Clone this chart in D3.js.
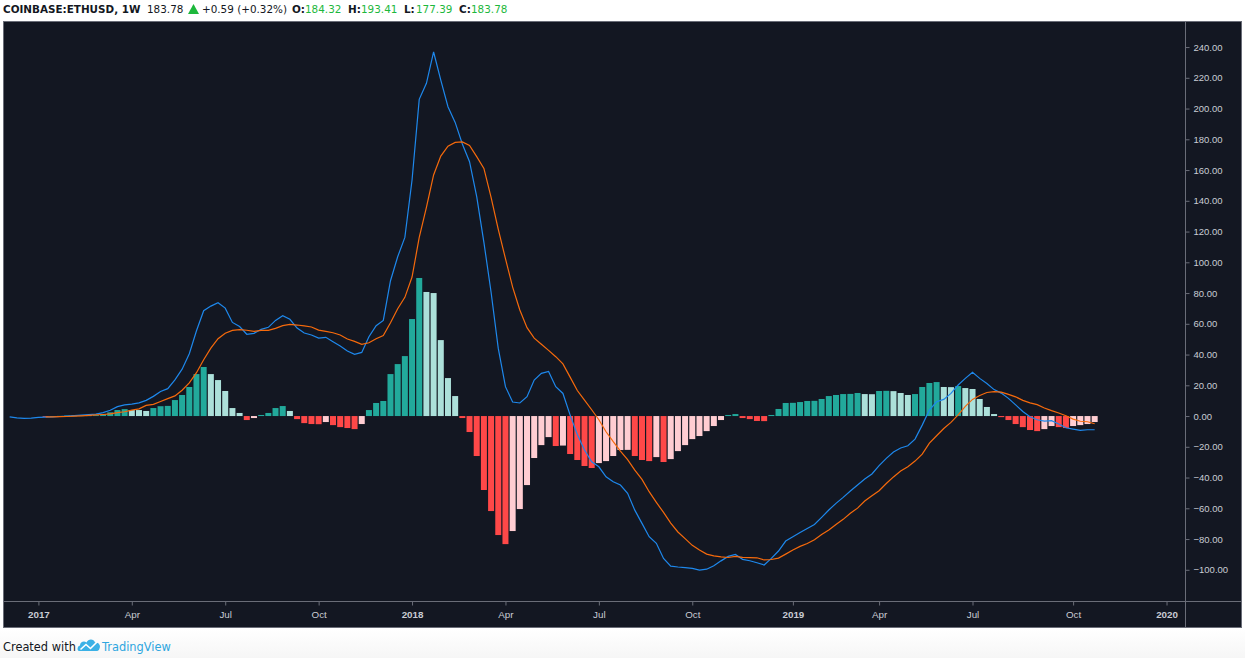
<!DOCTYPE html>
<html>
<head>
<meta charset="utf-8">
<script src="https://cdn.jsdelivr.net/npm/d3@7"></script>
<style>
    body { margin: 0; background: #ffffff; }
    svg { display: block; font-family: "DejaVu Sans", sans-serif; }
</style>
</head>
<body>
<svg id="chart" width="1245" height="658"></svg>
<script>

// weekly bars, first one is the week of 2016-12-05
const firstWeek = '2016-12-05';

// MACD line (blue)
const macd = [
    -0.6, -1.2, -1.5, -1.3,
    -0.9, -0.7, -0.5, -0.3, 0.0, 0.3, 0.6, 0.9, 1.3, 2.2,
    3.8, 6.1, 7.3, 7.8, 8.6, 10.2, 12.8, 16.0, 17.8, 23.5,
    30.5, 40.5, 55.5, 68.5, 71.5, 73.7, 70.2, 60.9, 58.2, 53.2,
    53.8, 56.4, 57.7, 62.2, 65.3, 62.9, 57.2, 54.0, 52.7, 50.7,
    51.2, 48.3, 45.5, 42.3, 40.1, 41.4, 51.6, 58.8, 62.2, 88.0,
    103.6, 116.2, 153.5, 206.0, 216.4, 236.8, 218.5, 201.2, 191.0, 177.0,
    165.4, 142.7, 113.0, 80.5, 44.0, 19.1, 9.1, 8.5, 12.6, 23.4,
    27.8, 29.0, 19.1, 14.7, 0.6, -12.0, -22.1, -29.7, -33.0, -39.5,
    -42.7, -44.9, -50.3, -61.2, -69.8, -78.5, -82.8, -92.6, -97.6, -98.2,
    -98.6, -99.1, -100.2, -99.6, -97.4, -94.2, -91.3, -90.0, -93.2, -94.1,
    -95.4, -96.9, -92.6, -87.8, -81.3, -78.5, -75.7, -73.1, -70.5, -65.9,
    -61.1, -56.8, -52.9, -48.8, -44.9, -41.0, -37.7, -32.3, -27.5, -23.4,
    -20.8, -19.3, -15.0, -5.9, 3.9, 9.3, 10.8, 14.7, 20.2, 24.5,
    28.4, 24.5, 21.2, 17.2, 14.9, 11.5, 7.3, 3.0, -0.5, -2.4,
    -3.3, -3.0, -5.2, -7.6, -8.5, -9.3, -8.9, -8.9
];

// signal line (orange)
const signal = [
    null, null, null, null,
    null, -0.5, -0.5, -0.4, -0.3, -0.1, 0.1, 0.4, 0.7, 1.0,
    1.4, 2.2, 2.8, 3.9, 4.7, 6.9, 7.6, 9.5, 11.3, 13.1,
    16.8, 21.6, 28.2, 36.6, 44.2, 50.3, 53.9, 55.7, 56.2, 55.8,
    55.1, 55.7, 55.7, 57.0, 58.8, 59.6, 59.2, 58.6, 57.9, 55.9,
    55.1, 54.2, 52.7, 50.1, 48.6, 46.6, 47.7, 50.3, 52.4, 60.7,
    69.8, 77.2, 90.4, 116.2, 135.7, 156.8, 169.1, 175.5, 178.0, 178.3,
    176.0, 168.7, 161.1, 142.3, 121.4, 102.4, 83.9, 69.0, 57.5, 50.7,
    46.7, 42.7, 38.6, 33.9, 25.3, 16.6, 10.4, 4.1, -2.4, -10.2,
    -16.7, -22.8, -28.3, -35.2, -41.2, -49.2, -56.1, -62.7, -69.6, -75.4,
    -79.7, -84.1, -87.2, -89.8, -90.9, -91.6, -92.0, -91.3, -91.9, -92.1,
    -92.2, -93.6, -93.3, -92.4, -89.8, -87.1, -84.8, -82.9, -80.4, -77.0,
    -74.1, -70.5, -67.2, -63.2, -59.9, -55.3, -51.9, -48.6, -43.9, -39.6,
    -35.8, -33.0, -29.3, -24.8, -17.6, -12.8, -8.1, -4.1, 0.7, 6.3,
    10.8, 13.4, 15.3, 15.9, 15.6, 14.1, 12.5, 10.2, 8.6, 7.4,
    5.2, 3.5, 2.0, 0.2, -2.0, -3.4, -3.7, -5.0
];

// histogram
const hist = [
    null, null, null, null,
    null, -0.2, 0.0, 0.1, 0.3, 0.4, 0.5, 0.5, 0.6, 1.2,
    2.4, 3.9, 4.5, 3.9, 3.9, 3.3, 5.2, 6.4, 6.6, 10.4,
    13.7, 18.9, 27.3, 31.9, 27.3, 23.4, 16.3, 5.2, 2.0, -2.6,
    -1.3, 0.7, 2.0, 5.2, 6.5, 3.3, -2.0, -4.6, -5.2, -5.3,
    -3.9, -5.9, -7.2, -7.8, -8.5, -5.2, 3.9, 8.5, 9.8, 27.3,
    33.8, 39.0, 63.1, 89.8, 80.7, 80.0, 49.4, 24.7, 13.0, -1.3,
    -10.4, -26.0, -48.1, -61.8, -77.4, -83.3, -74.8, -60.5, -44.9, -27.3,
    -18.9, -13.7, -19.5, -19.2, -24.7, -28.6, -32.5, -33.8, -30.6, -29.3,
    -26.0, -22.1, -22.0, -26.0, -28.6, -29.3, -26.7, -29.9, -28.0, -22.8,
    -18.9, -15.0, -13.0, -9.8, -6.5, -2.6, 0.7, 1.3, -1.3, -2.0,
    -3.2, -3.3, 0.7, 4.6, 8.5, 8.6, 9.1, 9.8, 9.9, 11.1,
    13.0, 13.7, 14.3, 14.4, 15.0, 14.3, 14.2, 16.3, 16.4, 16.2,
    15.0, 13.7, 14.3, 18.9, 21.5, 22.1, 18.9, 18.8, 19.5, 18.2,
    17.6, 11.1, 5.9, 1.3, -0.7, -2.6, -5.2, -7.2, -9.1, -9.8,
    -8.5, -6.5, -7.2, -7.8, -6.5, -5.9, -5.2, -3.9
];

// price scale ticks
const yTicks = [-100, -80, -60, -40, -20, 0, 20, 40, 60, 80, 100, 120, 140, 160, 180, 200, 220, 240];

// time scale ticks (first weekly bar of each quarter)
const xTickDates = ['2017-01-02', '2017-04-03', '2017-07-03', '2017-10-02', '2018-01-01', '2018-04-02',
    '2018-07-02', '2018-10-01', '2019-01-07', '2019-04-01', '2019-07-01', '2019-10-07', '2020-01-06'];
const xTickLabels = ['2017', 'Apr', 'Jul', 'Oct', '2018', 'Apr', 'Jul', 'Oct', '2019', 'Apr', 'Jul', 'Oct', '2020'];

// header legend
const symbol = 'COINBASE:ETHUSD, 1W';
const lastPrice = '183.78';
const change = '+0.59 (+0.32%)';
const ohlcKeys = ['O:', 'H:', 'L:', 'C:'];
const ohlcValues = ['184.32', '193.41', '177.39', '183.78'];


const W = 1245, H = 658;
const frame = {left: 3.5, top: 21.5, right: 1241.5, bottom: 627.5};
const plot = {left: 4, top: 22, right: 1185, bottom: 601};

const bg = '#131722';
const borderCol = '#6a6d78';
const axisText = '#c9ccd4';
const green = '#1db83c';

const svg = d3.select('#chart');
const parse = d3.utcParse('%Y-%m-%d');
const start = parse(firstWeek);
const weeks = macd.map((d, i) => d3.utcDay.offset(start, 7 * i));

const x = d3.scaleUtc()
    .domain([parse('2016-11-29'), parse('2020-01-24')])
    .range([3.5, plot.right]);

const y = d3.scaleLinear()
    .domain([-120.3, 256.3])
    .range([plot.bottom, plot.top]);

// page footer band
const grad = svg.append('defs').append('linearGradient')
    .attr('id', 'foot').attr('x1', 0).attr('y1', 0).attr('x2', 0).attr('y2', 1);
grad.append('stop').attr('offset', 0).attr('stop-color', '#ffffff');
grad.append('stop').attr('offset', 1).attr('stop-color', '#f6f6f6');
svg.append('rect').attr('x', 0).attr('y', 628).attr('width', W).attr('height', H - 628)
    .attr('fill', 'url(#foot)');

svg.select('defs').append('clipPath').attr('id', 'clip')
    .append('rect')
    .attr('x', plot.left).attr('y', plot.top)
    .attr('width', plot.right - plot.left).attr('height', plot.bottom - plot.top);

// chart frame
svg.append('rect')
    .attr('x', frame.left).attr('y', frame.top)
    .attr('width', frame.right - frame.left).attr('height', frame.bottom - frame.top)
    .attr('fill', bg)
    .attr('stroke', borderCol);

const g = svg.append('g').attr('clip-path', 'url(#clip)');

// histogram
const barColor = (d, i) => {
    const prev = i > 0 ? hist[i - 1] : null;
    const up = prev !== null && prev < d;
    if (d >= 0) return up ? '#22a99b' : '#ace0da';
    return up ? '#ffcdd2' : '#ff4848';
};

g.append('g')
    .selectAll('rect')
    .data(hist.map((d, i) => ({v: d, i: i})).filter(d => d.v !== null))
    .enter()
    .append('rect')
    .attr('x', d => x(weeks[d.i]) - 3)
    .attr('width', 6)
    .attr('y', d => Math.min(y(d.v), y(0)))
    .attr('height', d => Math.max(Math.abs(y(d.v) - y(0)), 0.8))
    .attr('fill', d => barColor(d.v, d.i));

const line = d3.line()
    .defined(d => d !== null)
    .x((d, i) => x(weeks[i]))
    .y(d => y(d));

g.append('path')
    .datum(macd)
    .attr('d', line)
    .attr('fill', 'none')
    .attr('stroke', '#1e88ec')
    .attr('stroke-width', 1.2);

g.append('path')
    .datum(signal)
    .attr('d', line)
    .attr('fill', 'none')
    .attr('stroke', '#f66a0c')
    .attr('stroke-width', 1.2);

// price axis
svg.append('line')
    .attr('x1', plot.right + 0.5).attr('x2', plot.right + 0.5)
    .attr('y1', frame.top).attr('y2', frame.bottom)
    .attr('stroke', borderCol);

const yAxis = svg.append('g')
    .attr('transform', `translate(${plot.right + 0.5},0)`)
    .call(d3.axisRight(y).tickValues(yTicks).tickSize(4).tickPadding(4).tickFormat(d3.format('.2f')));
yAxis.select('.domain').remove();
yAxis.selectAll('line').attr('stroke', borderCol);
yAxis.selectAll('text').attr('fill', axisText).style('font-size', '9.5px');

// time axis
svg.append('line')
    .attr('x1', frame.left).attr('x2', frame.right)
    .attr('y1', plot.bottom + 0.5).attr('y2', plot.bottom + 0.5)
    .attr('stroke', borderCol);

const xAxis = svg.append('g')
    .attr('transform', `translate(0,${plot.bottom + 0.5})`)
    .call(d3.axisBottom(x)
        .tickValues(xTickDates.map(parse))
        .tickSize(4).tickPadding(6)
        .tickFormat((d, i) => xTickLabels[i]));
xAxis.select('.domain').remove();
xAxis.selectAll('line').attr('stroke', borderCol);
xAxis.selectAll('text')
    .attr('fill', axisText)
    .style('font-size', '9.8px')
    .style('font-weight', (d, i) => /^\d{4}$/.test(xTickLabels[i]) ? 'bold' : 'normal');

// header legend
const head = svg.append('g').style('font-size', '10.4px');
head.append('text').attr('x', 3).attr('y', 13).attr('fill', '#131722')
    .style('font-weight', 'bold').text(symbol);
head.append('text').attr('x', 147).attr('y', 13).attr('fill', '#131722').text(lastPrice);
head.append('path').attr('d', 'M188,14L199,14L193.5,4Z').attr('fill', green);
head.append('text').attr('x', 202).attr('y', 13).attr('fill', '#131722').text(change);

const keyX = [292, 348, 404, 459];
const valX = [305, 361, 416, 471];
ohlcKeys.forEach((k, i) => {
    head.append('text').attr('x', keyX[i]).attr('y', 13).attr('fill', '#131722')
        .style('font-weight', 'bold').text(k);
    head.append('text').attr('x', valX[i]).attr('y', 13).attr('fill', green).text(ohlcValues[i]);
});

// footer
const foot = svg.append('g').style('font-size', '11.4px');
foot.append('text').attr('x', 3).attr('y', 651).attr('fill', '#131722').text('Created with');
foot.append('path')
    .attr('d', 'M79,651 C77,651 77,646 80,645.5 C80,642 84,640.5 86.5,642.5 C88,638.5 94,638.5 95,642.5 C99,642 101,646 99.5,648.5 C99,650.5 98,651 96,651 Z')
    .attr('fill', '#3ab1e6');
foot.append('path')
    .attr('d', 'M80.5,649.5 L86,644.5 L90.5,648.5 L97,642')
    .attr('fill', 'none').attr('stroke', '#ffffff').attr('stroke-width', 1.6);
foot.append('text').attr('x', 102).attr('y', 651).attr('fill', '#2ea6df').text('TradingView');

</script>
</body>
</html>
